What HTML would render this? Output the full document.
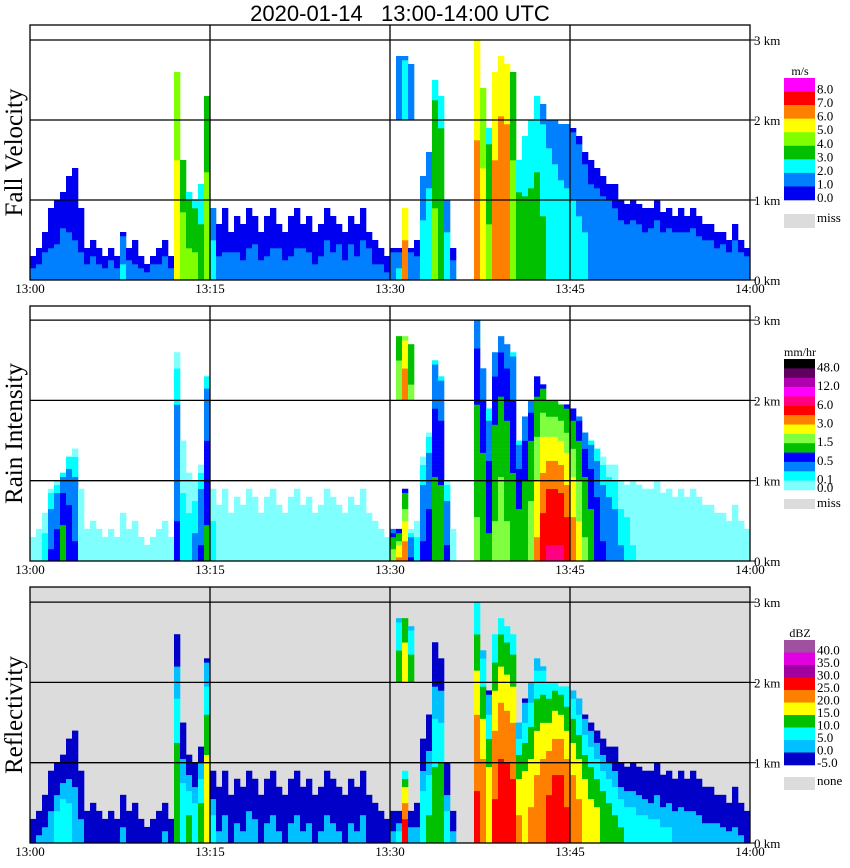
<!DOCTYPE html>
<html><head><meta charset="utf-8">
<style>
html,body{margin:0;padding:0;background:#fff;width:850px;height:868px;overflow:hidden}
svg{display:block}
text{font-family:"Liberation Serif",serif}
</style></head>
<body>
<svg id="chart" width="850" height="868" viewBox="0 0 850 868">
<text x="400" y="21" text-anchor="middle" font-size="22" xml:space="preserve" style="font-family:'Liberation Sans',sans-serif;white-space:pre">2020-01-14   13:00-14:00 UTC</text>
</svg>
<script>
// ---- data: 120 half-minute columns from 13:00 to 14:00 ----
const timeLabels = ["13:00","13:15","13:30","13:45","14:00"];
const heightLabels = ["0 km","1 km","2 km","3 km"];
const echoTopKm = [0.3,0.4,0.6,0.9, 1.0,1.1,1.3,1.4,0.9,
 0.4,0.5,0.4,0.3,0.4,0.3,0.6,0.4,0.5,0.3,0.2,0.3,0.4,0.5,0.3,
 2.6,1.5,1.1,1.0,1.2,2.3,0.9,
 0.7,0.9,0.6,0.8,0.7,0.9,0.8,0.6,0.8,0.9,0.7,0.6,0.8,0.9,0.7,0.8,0.6,0.7,0.9,0.8,0.7,0.6,0.8,0.7,0.9,0.6,0.5,0.4,0.3,
 0.4,0.4,0.9,0.4,0.5,
 1.3,1.6,2.5,2.3,1.0,0.4,
 0,0,0,
 3.0,2.4,1.9,
 2.6,2.8,2.7,2.6,
 1.5,1.8,2.0,
 2.3,2.2,2.0,2.0,1.95,1.95,
 1.9,1.8,1.6,1.5,1.4,
 1.3,1.2,1.2,1.0,0.95,
 1.0,0.95,0.9,0.9,1.0,
 0.85,0.9,0.8,0.9,0.8,
 0.9,0.8,0.7,0.7,0.6,
 0.6,0.5,0.7,0.5,0.4];
const dbzCore = [-1,1,2,4, 8,10,8,5,2,
 -2,0,-2,-3,-2,0,2,-2,0,-3,-4,-2,0,2,-2,
 15,10,12,10,14,20,8,
 1,3,0,2,1,4,3,0,2,3,1,0,2,3,1,2,0,1,3,2,1,0,2,1,3,0,-2,-3,-4,
 3,8,27,5,3,
 10,11,13,14,8,3,
 -10,-10,-10,
 26,24,20,
 26,28,28,27,
 21,20,21,
 23,25,27,29,29,26,
 24,22,20,18,17,
 15,14,12,11,10,
 9,8,8,7,7,
 6,6,5,5,5,
 4,4,3,3,3,
 2,2,2,1,0];
const fallCore = [1.3,1.3,1.5,1.3, 1.3,1.5,1.3,1.2,1.2,
 1.3,1.6,1.3,1.3,1.6,1.3,2.2,1.6,1.3,1.3,1.3,1.6,1.3,1.6,1.3,
 5.5,4.5,4.2,4.2,3.5,4.5,2.5,
 1.3,1.2,1.5,1.3,1.2,1.3,1.5,1.3,1.2,1.3,1.5,1.3,1.2,1.3,1.5,1.3,1.2,1.3,1.5,1.3,1.6,1.3,1.5,1.3,1.5,1.6,1.3,1.3,1.2,
 2,2.2,6.5,2,1.5,
 2.5,2.8,4.2,4,2.5,1.5,
 0,0,0,
 6.5,5.5,4.2,
 6.5,6.8,6.8,4.5,
 3.8,3.5,3.5,
 3.5,3.2,3.0,2.8,2.6,2.5,
 2.4,2.3,2.2,2.0,2.0,
 2,2,1.8,1.8,1.8,
 1.8,1.8,1.7,1.8,1.8,
 1.7,1.8,1.8,1.7,1.8,
 1.8,1.7,1.8,1.8,1.7,
 1.8,1.8,1.7,1.8,1.8];
const rainCore = [0.02,0.03,0.1,0.3, 0.4,0.8,0.5,0.3,0.05,
 0.03,0.03,0.02,0.03,0.04,0.03,0.03,0.02,0.03,0.03,0.02,0.03,0.04,0.03,0.02,
 0.3,0.1,0.1,0.15,0.3,0.6,0.1,
 0.03,0.04,0.03,0.03,0.02,0.04,0.03,0.03,0.04,0.03,0.02,0.03,0.04,0.03,0.03,0.04,0.02,0.03,0.04,0.03,0.03,0.02,0.04,0.03,0.03,0.02,0.03,0.02,0.02,
 1.5,2.5,3.0,0.3,0.1,
 0.3,0.4,0.8,0.8,0.3,0.05,
 0,0,0,
 1.2,1.0,0.6,
 1.2,1.5,1.2,0.8,
 0.8,1.0,1.5,
 2.5,4.0,5.0,5.0,5.0,4.0,
 3.0,2.0,1.2,0.8,0.5,
 0.3,0.25,0.2,0.12,0.1,
 0.06,0.05,0.05,0.04,0.05,
 0.04,0.04,0.03,0.04,0.03,
 0.03,0.04,0.03,0.03,0.03,
 0.03,0.02,0.03,0.02,0.02];
// elevated echo layer
const upCols = [61,62,63];
const upBaseKm = [2.0,2.0,2.0];
const upTopKm = [2.8,2.8,2.7];
const upFall = [1.8,2.5,2.0];
const upRain = [1.5,3.0,1.2];
const upDbz = [12,18,12];

// ---- colour scales ----
const fallEdges=[0,1,2,3,4,5,6,7,8];
const fallColors=["#0000f0","#0080ff","#00ffff","#00c000","#80ff00","#ffff00","#ff8000","#ff0000","#ff00ff"];
const rainEdges=[0,0.05,0.1,0.25,0.5,1,1.5,2.2,3,4.5,6,9,12,48];
const rainColors=["#80ffff","#00ffff","#0080ff","#0000ff","#00c000","#80ff40","#ffff00","#ff8000","#ff0000","#ff0080","#ff00ff","#b000b0","#600060","#000000"];
const dbzEdges=[-5,0,5,10,15,20,25,30,35,40];
const dbzColors=["#0000c8","#00c0ff","#00ffff","#00c000","#ffff00","#ff8000","#ff0000","#a000a0","#e000e0","#a050a0"];

const NS="http://www.w3.org/2000/svg";
const svg=document.getElementById('chart');
function el(tag,attrs,parent){const e=document.createElementNS(NS,tag);for(const k in attrs)e.setAttribute(k,attrs[k]);(parent||svg).appendChild(e);return e;}
const X0=30,X1=750,NCOL=echoTopKm.length;
const colW=(X1-X0)/NCOL;
function xScale(i){return X0+i*colW;}
function yScale(p,km){return p.base-km*p.pxKm;}
function pick(edges,colors,v){let c=-1;for(let k=0;k<edges.length;k++){if(v>=edges[k])c=k;}return c<0?colors[0]:colors[c];}

const panels=[
 {name:"fall-velocity",title:"Fall Velocity",top:25,base:280,pxKm:80,bg:"#fff",core:fallCore,up:upFall,edges:fallEdges,colors:fallColors,
  prof:(c,f)=>c-1.5*f*f,legendTop:78,legendH:122,unit:"m/s",labels:["8.0","7.0","6.0","5.0","4.0","3.0","2.0","1.0","0.0"],miss:"miss",missY:214,missH:14},
 {name:"rain-intensity",title:"Rain Intensity",top:306,base:561,pxKm:80.3,bg:"#fff",core:rainCore,up:upRain,edges:rainEdges,colors:rainColors,
  prof:(c,f)=>c*(1-0.9*f),legendTop:359,legendH:131,unit:"mm/hr",labels:["48.0","12.0","6.0","3.0","1.5","0.5","0.1","0.0"],miss:"miss",missY:499,missH:10},
 {name:"reflectivity",title:"Reflectivity",top:587,base:843,pxKm:80.3,bg:"#dcdcdc",core:dbzCore,up:upDbz,edges:dbzEdges,colors:dbzColors,
  prof:(c,f)=>c-21*f*f,legendTop:640,legendH:125,unit:"dBZ",labels:["40.0","35.0","30.0","25.0","20.0","15.0","10.0","5.0","0.0","-5.0"],miss:"none",missY:777,missH:13}
];
const BIN=0.05;
panels.forEach(p=>{
  const g=el('g',{});
  
  
  const bg=el('rect',{x:X0,y:p.top,width:X1-X0,height:p.base-p.top,fill:p.bg},g);
  
  
  const cells=el('g',{},g);
  
  
  for(let i=0;i<NCOL;i++){
    const top=echoTopKm[i];
    if(!(top>0))continue;
    for(let h=0;h<top-1e-6;h+=BIN){
      const v=p.prof(p.core[i],(h+BIN/2)/top);
      const r=el('rect',{x:xScale(i),y:yScale(p,Math.min(h+BIN,top)),width:colW+0.3,height:(Math.min(h+BIN,top)-h)*p.pxKm+0.3,fill:pick(p.edges,p.colors,v)},cells);
      
      
    }
  }
  upCols.forEach((ci,k)=>{
    const b=upBaseKm[k],t=upTopKm[k];
    for(let h=b;h<t-1e-6;h+=BIN){
      const v=p.prof(p.up[k],(h-b+BIN/2)/(t-b)*0.6);
      const r=el('rect',{x:xScale(ci),y:yScale(p,Math.min(h+BIN,t)),width:colW+0.3,height:BIN*p.pxKm+0.3,fill:pick(p.edges,p.colors,v)},cells);
      
      
    }
  });
  for(let km=1;km<=3;km++){
    const l=el('line',{x1:X0,x2:X1,y1:yScale(p,km),y2:yScale(p,km),stroke:"#000","stroke-width":1.3},g);
    
    
  }
  for(let k=1;k<4;k++){
    const x=X0+k*(X1-X0)/4;
    const l=el('line',{x1:x,x2:x,y1:p.top,y2:p.base,stroke:"#000","stroke-width":1.3},g);
    
    
  }
  const fr=el('rect',{x:X0,y:p.top,width:X1-X0,height:p.base-p.top,fill:"none",stroke:"#000","stroke-width":1.3},g);
  
  
  heightLabels.forEach((lab,km)=>{
    const y=yScale(p,km);
    const t=el('line',{x1:X1,x2:X1+6,y1:y,y2:y,stroke:"#000","stroke-width":1},g);
    
    
    const tx=el('text',{x:X1+4,y:y+5,"font-size":13},g);
    tx.textContent=lab;
    
    
  });
  timeLabels.forEach((lab,k)=>{
    const tx=el('text',{x:X0+k*(X1-X0)/4,y:p.base+13,"font-size":13,"text-anchor":"middle"},g);
    tx.textContent=lab;
    
    
  });
  const cy=(p.top+p.base)/2;
  const yt=el('text',{x:0,y:0,"font-size":25,"text-anchor":"middle",transform:`translate(22,${cy}) rotate(-90)`},g);
  yt.textContent=p.title;
  
  
  const lg=el('g',{},g);
  
  
  const n=p.colors.length,bh=p.legendH/n;
  const ut=el('text',{x:800,y:p.legendTop-3,"font-size":12,"text-anchor":"middle"},lg);
  ut.textContent=p.unit;
  
  
  for(let k=0;k<n;k++){
    const r=el('rect',{x:784,y:p.legendTop+k*bh,width:31,height:bh+0.3,fill:p.colors[n-1-k]},lg);
    
    
  }
  p.labels.forEach((lab,k)=>{
    let y;
    if(p.name==="rain-intensity"){const pos=[1,3,5,7,9,11,13,13.9];y=p.legendTop+pos[k]*bh+3;}
    else y=p.legendTop+(k+1)*bh+2;
    const t=el('text',{x:817,y:y,"font-size":13},lg);
    t.textContent=lab;
    
    
  });
  const ms=el('rect',{x:784,y:p.missY,width:31,height:p.missH,fill:"#dcdcdc"},lg);
  
  
  const mt=el('text',{x:817,y:p.missY+8,"font-size":13},lg);
  mt.textContent=p.miss;
  
  
});
</script>
</body></html>
